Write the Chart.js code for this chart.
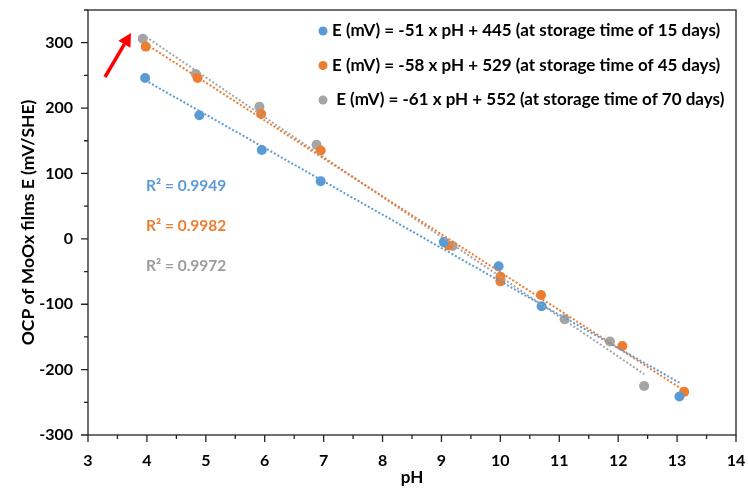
<!DOCTYPE html>
<html>
<head>
<meta charset="utf-8">
<script src="https://cdn.jsdelivr.net/npm/chart.js@4.4.1/dist/chart.umd.min.js"></script>
<style>
html, body { margin: 0; padding: 0; background: #fff; }
#wrap { width: 748px; height: 488px; }
</style>
</head>
<body>
<div id="wrap"><canvas id="chartOcp"></canvas></div>
<script>
// values (pH, mV/SHE)
var ph15 = [3.97, 4.89, 5.95, 6.95, 9.04, 9.97, 10.70, 13.04];
var e15  = [246, 189, 136, 88, -5, -42, -103, -241];
var ph45 = [3.98, 4.86, 5.94, 6.95, 9.12, 10.00, 10.00, 10.69, 12.07, 13.12];
var e45  = [294, 246, 191, 135, -10, -58, -65, -86, -164, -234];
var ph70 = [3.93, 4.83, 5.91, 6.88, 9.19, 11.09, 11.86, 12.44];
var e70  = [306, 252, 202, 144, -11, -123, -157, -225];

var slopes     = [-51, -58, -61];
var intercepts = [445, 529, 552];
var r2Labels   = ["R\u00b2 = 0.9949", "R\u00b2 = 0.9982", "R\u00b2 = 0.9972"];
var legendLabels = [
	"E (mV) = -51 x pH + 445 (at storage time of 15 days)",
	"E (mV) = -58 x pH + 529 (at storage time of 45 days)",
	" E (mV) = -61 x pH + 552 (at storage time of 70 days)"
];
var colors = ["#5B9BD5", "#ED7D31", "#A5A5A5"];
var textColors = ["#5B9BD5", "#ED7D31", "#9C9C9C"];

var FONT = "Lato, 'Liberation Sans', sans-serif";

function points(xs, ys) {
	return xs.map(function(v, i) { return { x: v, y: ys[i] }; });
}

// trendline over the pH range of each series
function trend(xs, k) {
	var lo = Math.min.apply(null, xs), hi = Math.max.apply(null, xs);
	return [{ x: lo, y: slopes[k] * lo + intercepts[k] }, { x: hi, y: slopes[k] * hi + intercepts[k] }];
}

var series = [[ph15, e15], [ph45, e45], [ph70, e70]];
var datasets = [];
series.forEach(function(s, k) {
	datasets.push({
		data: points(s[0], s[1]),
		backgroundColor: colors[k],
		borderWidth: 0,
		pointRadius: 5,
		showLine: false,
		order: 2
	});
});
series.forEach(function(s, k) {
	datasets.push({
		data: trend(s[0], k),
		borderColor: colors[k],
		borderWidth: 2,
		borderDash: [2, 2],
		pointRadius: 0,
		showLine: true,
		fill: false,
		order: 1
	});
});

var decor = {
	id: "decor",
	afterDraw: function(chart) {
		var ctx = chart.ctx, a = chart.chartArea;
		var sx = chart.scales.x, sy = chart.scales.y;
		ctx.save();

		ctx.strokeStyle = "#222";
		ctx.lineWidth = 1.3;
		ctx.strokeRect(a.left, a.top, a.right - a.left, a.bottom - a.top);

		ctx.beginPath();
		sx.ticks.forEach(function(t) {
			var px = sx.getPixelForValue(t.value);
			var len = Number.isInteger(t.value) ? 7 : 4;
			ctx.moveTo(px, a.bottom); ctx.lineTo(px, a.bottom + len);
		});
		sy.ticks.forEach(function(t) {
			var py = sy.getPixelForValue(t.value);
			var len = t.value % 100 === 0 ? 7 : 4;
			ctx.moveTo(a.left, py); ctx.lineTo(a.left - len, py);
		});
		ctx.stroke();

		// legend
		ctx.textBaseline = "middle";
		ctx.textAlign = "left";
		ctx.font = "bold 17px " + FONT;
		legendLabels.forEach(function(txt, k) {
			var ly = 31 + k * 34.5;
			ctx.fillStyle = colors[k];
			ctx.beginPath(); ctx.arc(323, ly, 4.5, 0, Math.PI * 2); ctx.fill();
			ctx.fillStyle = "#000";
			ctx.fillText(txt, 332, ly);
		});

		// R² labels
		ctx.font = "bold 15.5px " + FONT;
		r2Labels.forEach(function(txt, k) {
			ctx.fillStyle = textColors[k];
			ctx.fillText(txt, 146, 186 + k * 40);
		});

		// red arrow
		ctx.strokeStyle = "#FF0000";
		ctx.fillStyle = "#FF0000";
		ctx.lineWidth = 3.5;
		var x0 = 105, y0 = 77, x1 = 131, y1 = 33;
		var ang = Math.atan2(y1 - y0, x1 - x0);
		var hl = 13, hw = 7;
		var bx = x1 - hl * Math.cos(ang), by = y1 - hl * Math.sin(ang);
		ctx.beginPath(); ctx.moveTo(x0, y0); ctx.lineTo(bx, by); ctx.stroke();
		ctx.beginPath();
		ctx.moveTo(x1, y1);
		ctx.lineTo(bx + hw * Math.sin(ang), by - hw * Math.cos(ang));
		ctx.lineTo(bx - hw * Math.sin(ang), by + hw * Math.cos(ang));
		ctx.closePath(); ctx.fill();

		ctx.restore();
	}
};

new Chart(document.getElementById("chartOcp"), {
	type: "scatter",
	data: { datasets: datasets },
	plugins: [decor],
	options: {
		responsive: true,
		maintainAspectRatio: false,
		animation: false,
		layout: { padding: { top: 10, right: 12, left: 0, bottom: 0 } },
		plugins: { legend: { display: false }, tooltip: { enabled: false } },
		scales: {
			x: {
				type: "linear", min: 3, max: 14,
				grid: { display: false, drawTicks: false },
				border: { display: false },
				ticks: {
					stepSize: 0.5, padding: 16, color: "#000",
					font: { family: FONT, size: 16, weight: "bold" },
					callback: function(v) { return Number.isInteger(v) ? v : ""; }
				},
				title: { display: true, text: "pH", color: "#000", padding: 0,
					font: { family: FONT, size: 17, weight: "bold" } },
				afterFit: function(s) { s.height = 53; s.paddingLeft = 0; s.paddingRight = 0; }
			},
			y: {
				type: "linear", min: -300, max: 350,
				grid: { display: false, drawTicks: false },
				border: { display: false },
				ticks: {
					stepSize: 50, padding: 15, color: "#000",
					font: { family: FONT, size: 16, weight: "bold" },
					callback: function(v) { return v % 100 === 0 ? v : ""; }
				},
				title: { display: true, text: "OCP of MoOx films E (mV/SHE)", color: "#000",
					padding: { top: 18, bottom: 0 },
					font: { family: FONT, size: 17.5, weight: "bold" } },
				afterFit: function(s) { s.width = 88; s.paddingTop = 0; s.paddingBottom = 0; }
			}
		}
	}
});
</script>
</body>
</html>
